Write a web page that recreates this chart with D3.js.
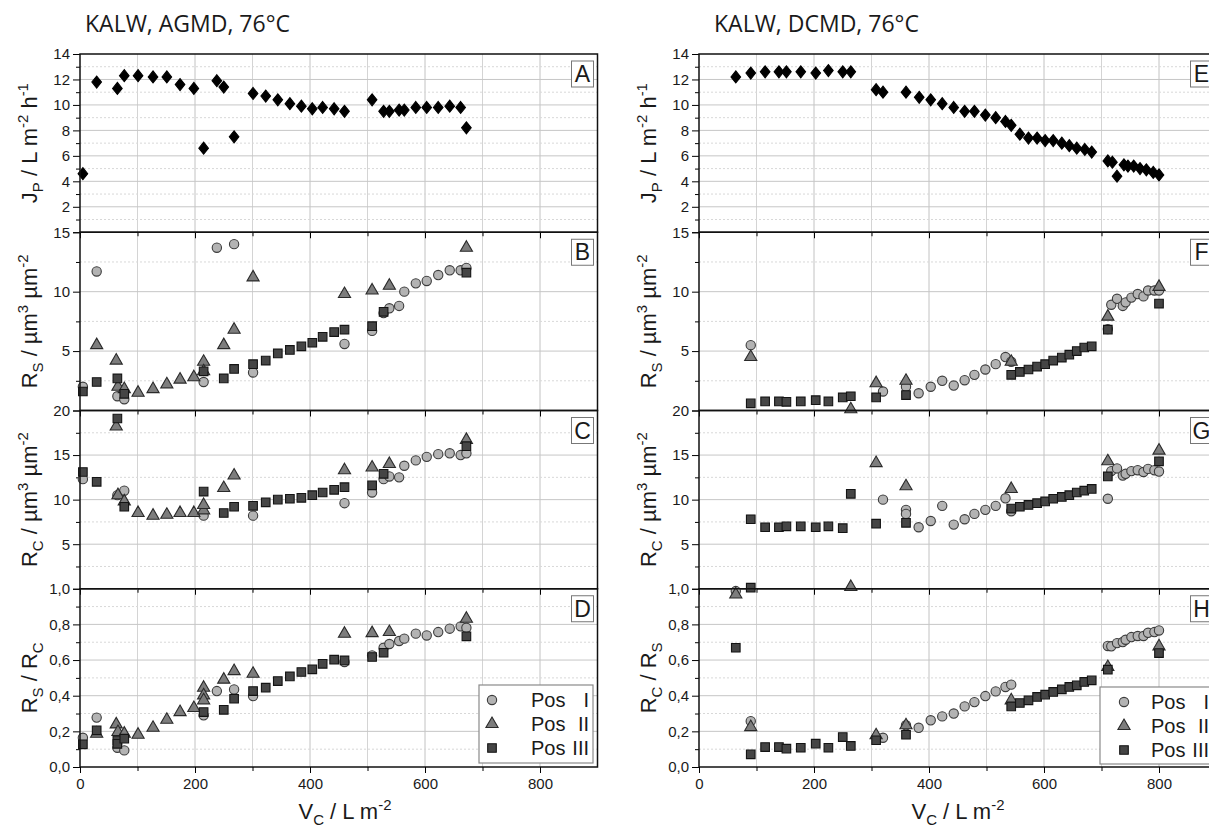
<!DOCTYPE html>
<html>
<head>
<meta charset="utf-8">
<script src="https://cdn.jsdelivr.net/npm/d3@7"></script>
<style>
  body { margin: 0; background: #fff; }
  text { font-family: "Liberation Sans", Arial, sans-serif; fill: #1a1a1a; }
</style>
</head>
<body>
<svg id="chart" width="1209" height="829"></svg>
<script>
"use strict";

// ---- data: [V_C in L/m2, value] ----
const agmdFlux = [[5,4.6],[29,11.8],[65,11.3],[77,12.3],[101,12.3],[127,12.2],[151,12.2],[174,11.6],[198,11.3],[215,6.6],[238,11.9],[250,11.4],[268,7.5],[301,10.9],[323,10.7],[344,10.4],[365,10.1],[385,9.9],[404,9.7],[422,9.8],[442,9.7],[460,9.5],[508,10.4],[528,9.5],[538,9.5],[555,9.6],[564,9.6],[584,9.8],[603,9.8],[623,9.8],[643,9.9],[662,9.8],[672,8.2]];

const agmdRsI   = [[5,2.0],[29,11.7],[65,1.2],[77,0.95],[215,2.4],[238,13.7],[268,14.0],[301,3.2],[460,5.6],[508,6.7],[528,8.2],[538,8.6],[555,8.8],[564,10.0],[584,10.7],[603,10.9],[623,11.4],[643,11.8],[662,11.8],[672,12.0]];
const agmdRsII  = [[29,5.5],[63,4.2],[66,2.0],[77,1.8],[101,1.5],[127,1.8],[151,2.2],[174,2.6],[198,2.8],[215,4.1],[215,3.3],[250,5.5],[268,6.8],[301,11.2],[460,9.8],[508,10.1],[538,10.5],[672,13.7]];
const agmdRsIII = [[5,1.6],[29,2.4],[65,2.7],[77,1.4],[215,3.3],[250,2.7],[268,3.5],[301,3.9],[323,4.2],[344,4.8],[365,5.1],[385,5.4],[404,5.7],[422,6.2],[442,6.6],[460,6.8],[508,7.1],[528,8.3],[672,11.6]];

const agmdRcI   = [[5,12.3],[65,10.5],[77,11.0],[215,8.2],[301,8.2],[460,9.6],[508,10.8],[528,12.3],[538,12.6],[555,12.5],[564,13.8],[584,14.4],[603,14.8],[623,15.1],[643,15.2],[662,15.0],[672,15.2]];
const agmdRcII  = [[63,18.2],[66,10.5],[77,9.8],[101,8.5],[127,8.2],[151,8.3],[174,8.5],[198,8.5],[215,8.8],[215,9.4],[250,11.3],[268,12.7],[460,13.3],[508,13.6],[538,14.0],[672,16.7]];
const agmdRcIII = [[5,13.1],[29,12.0],[65,19.1],[77,9.2],[215,10.9],[250,8.5],[268,9.2],[301,9.3],[323,9.7],[344,10.0],[365,10.1],[385,10.2],[404,10.5],[422,10.8],[442,11.1],[460,11.4],[508,11.6],[528,12.9],[672,16.0]];

const agmdRatioI   = [[5,0.164],[29,0.277],[65,0.108],[77,0.093],[215,0.29],[238,0.426],[268,0.435],[301,0.398],[460,0.589],[508,0.626],[528,0.669],[538,0.69],[555,0.707],[564,0.72],[584,0.748],[603,0.738],[623,0.757],[643,0.776],[662,0.789],[672,0.781]];
const agmdRatioII  = [[29,0.187],[63,0.239],[66,0.196],[77,0.187],[101,0.181],[127,0.22],[151,0.265],[174,0.308],[198,0.331],[215,0.445],[215,0.402],[215,0.374],[250,0.49],[268,0.538],[301,0.523],[460,0.748],[508,0.751],[538,0.757],[672,0.832]];
const agmdRatioIII = [[5,0.127],[29,0.206],[65,0.15],[65,0.13],[77,0.159],[215,0.308],[250,0.321],[268,0.383],[301,0.426],[323,0.445],[344,0.482],[365,0.508],[385,0.533],[404,0.548],[422,0.579],[442,0.602],[460,0.598],[508,0.617],[528,0.641],[672,0.733]];

const dcmdFlux = [[64,12.2],[90,12.5],[115,12.6],[139,12.6],[152,12.6],[177,12.6],[203,12.5],[225,12.7],[250,12.6],[264,12.6],[308,11.2],[320,11.0],[360,11.0],[383,10.6],[403,10.4],[423,10.1],[443,9.8],[462,9.5],[479,9.5],[498,9.2],[516,9.0],[533,8.7],[543,8.4],[558,7.7],[573,7.4],[588,7.4],[602,7.2],[616,7.2],[631,7.0],[644,6.8],[657,6.6],[671,6.5],[683,6.3],[711,5.6],[719,5.5],[727,4.4],[739,5.3],[746,5.2],[756,5.2],[767,5.0],[778,4.9],[790,4.7],[800,4.5]];

const dcmdRsI   = [[90,5.5],[320,1.6],[360,2.0],[382,1.45],[403,2.0],[423,2.5],[443,2.1],[462,2.55],[479,3.0],[498,3.45],[516,3.9],[533,4.5],[543,4.1],[711,6.85],[717,8.9],[727,9.4],[737,8.8],[742,9.1],[752,9.5],[763,9.8],[773,9.6],[781,10.1],[792,10.1],[800,10.1]];
const dcmdRsII  = [[90,4.5],[264,0.1],[308,2.3],[360,2.5],[543,4.1],[711,7.9],[800,10.4]];
const dcmdRsIII = [[90,0.6],[115,0.76],[139,0.76],[152,0.73],[177,0.76],[203,0.87],[225,0.76],[250,1.1],[264,1.2],[308,1.1],[360,1.3],[543,3.0],[558,3.25],[573,3.45],[588,3.7],[602,3.9],[616,4.2],[631,4.45],[644,4.7],[657,5.0],[670,5.3],[683,5.4],[711,6.8],[800,9.0]];

const dcmdRcI   = [[320,10.0],[360,8.85],[360,8.4],[382,6.9],[403,7.6],[423,9.3],[443,7.2],[462,7.8],[479,8.4],[498,8.85],[516,9.3],[533,10.15],[543,8.7],[711,10.1],[717,13.2],[727,13.5],[737,12.7],[742,12.9],[752,13.2],[763,13.3],[773,13.1],[781,13.45],[792,13.3],[800,13.15]];
const dcmdRcII  = [[308,14.1],[360,11.5],[543,11.2],[711,14.3],[800,15.5]];
const dcmdRcIII = [[90,7.8],[115,6.9],[139,6.9],[152,7.0],[177,7.0],[203,6.9],[225,7.0],[250,6.8],[264,10.65],[308,7.3],[360,7.4],[543,9.0],[558,9.2],[573,9.4],[588,9.6],[602,9.8],[616,10.1],[631,10.3],[644,10.5],[657,10.8],[670,11.0],[683,11.2],[711,12.6],[800,14.3]];

const dcmdRatioI   = [[64,0.987],[90,0.257],[320,0.164],[360,0.234],[382,0.22],[403,0.262],[423,0.284],[443,0.3],[462,0.34],[479,0.364],[498,0.398],[516,0.424],[533,0.449],[543,0.462],[711,0.679],[717,0.677],[727,0.695],[737,0.701],[742,0.714],[752,0.729],[763,0.735],[773,0.735],[781,0.753],[792,0.757],[800,0.766]];
const dcmdRatioII  = [[64,0.968],[90,0.224],[264,1.01],[308,0.178],[360,0.234],[543,0.374],[711,0.561],[800,0.677]];
const dcmdRatioIII = [[64,0.669],[90,1.006],[90,0.071],[115,0.112],[139,0.112],[152,0.103],[177,0.108],[203,0.131],[225,0.108],[250,0.168],[264,0.118],[308,0.15],[360,0.181],[543,0.34],[558,0.359],[573,0.374],[588,0.393],[602,0.406],[616,0.421],[631,0.436],[644,0.449],[657,0.458],[670,0.477],[683,0.486],[711,0.546],[800,0.639]];

const xMajorTicks = [0, 200, 400, 600, 800];
const xMinorTicks = [100, 300, 500, 700];
const legendNames = ["I", "II", "III"];

// ---- layout ----
const svg = d3.select("#chart");
const PANEL_TOP = 54, PANEL_H = 178.25;

const markerStyle = {
    diamond:  { d: "M0,-6L4.8,0L0,6L-4.8,0Z", fill: "#000", stroke: "#000" },
    circle:   { d: d3.symbol(d3.symbolCircle, 68)(), fill: "#b3b3b3", stroke: "#3c3c3c" },
    triangle: { d: d3.symbol(d3.symbolTriangle, 64)(), fill: "#7d7d7d", stroke: "#2a2a2a" },
    square:   { d: d3.symbol(d3.symbolSquare, 74)(), fill: "#454545", stroke: "#141414" }
};
const posKinds = ["circle", "triangle", "square"];

const commaFmt = (d) => d3.format(".1f")(d).replace(".", ",");

function panelSpecs(kind) {
    const isAgmd = kind === "agmd";
    return [
        { letter: isAgmd ? "A" : "E", domain: [0, 14], major: d3.range(0, 14.01, 2), minor: d3.range(1, 14, 2),
          label: (d) => d === 0 ? "" : d,
          title: [["J", "n"], ["P", "sub"], [" / L m", "n"], ["-2", "sup"], [" h", "n"], ["-1", "sup"]],
          series: [{ data: isAgmd ? agmdFlux : dcmdFlux, kind: "diamond" }] },
        { letter: isAgmd ? "B" : "F", domain: [0, 15], major: [0, 5, 10, 15], minor: [2.5, 7.5, 12.5],
          label: (d) => d === 0 ? "" : d,
          title: [["R", "n"], ["S", "sub"], [" / µm", "n"], ["3", "sup"], [" µm", "n"], ["-2", "sup"]],
          series: isAgmd ? [agmdRsI, agmdRsII, agmdRsIII] : [dcmdRsI, dcmdRsII, dcmdRsIII] },
        { letter: isAgmd ? "C" : "G", domain: [0, 20], major: [0, 5, 10, 15, 20], minor: [2.5, 7.5, 12.5, 17.5],
          label: (d) => d === 0 ? "" : d,
          title: [["R", "n"], ["C", "sub"], [" / µm", "n"], ["3", "sup"], [" µm", "n"], ["-2", "sup"]],
          series: isAgmd ? [agmdRcI, agmdRcII, agmdRcIII] : [dcmdRcI, dcmdRcII, dcmdRcIII] },
        { letter: isAgmd ? "D" : "H", domain: [0, 1], major: d3.range(0, 1.01, 0.2), minor: d3.range(0.1, 1, 0.2),
          label: commaFmt,
          title: isAgmd ? [["R", "n"], ["S", "sub"], [" / R", "n"], ["C", "sub"]]
                        : [["R", "n"], ["C", "sub"], [" / R", "n"], ["S", "sub"]],
          series: isAgmd ? [agmdRatioI, agmdRatioII, agmdRatioIII] : [dcmdRatioI, dcmdRatioII, dcmdRatioIII] }
    ];
}

/**
 * Append tspans with sub/superscripts to a text selection.
 */
function richText(text, parts, size) {
    let offset = 0;
    parts.forEach(([str, mode]) => {
        const target = mode === "sub" ? size * 0.25 : mode === "sup" ? -size * 0.42 : 0;
        text.append("tspan")
            .attr("dy", target - offset)
            .style("font-size", mode === "n" ? size + "px" : (size * 0.68) + "px")
            .text(str);
        offset = target;
    });
}

const columns = [
    { kind: "agmd", left: 80, right: 597.5, title: "KALW, AGMD, 76°C", titleX: 85,
      legend: { x: 479, w: 114, y: 685, h: 78, sym: 13, txt: 52 } },
    { kind: "dcmd", left: 699, right: 1216.5, title: "KALW, DCMD, 76°C", titleX: 714,
      legend: { x: 1100, w: 114, y: 687, h: 77, sym: 24, txt: 51 } }
];

columns.forEach((col) => {
    const x = d3.scaleLinear().domain([0, 900]).range([col.left, col.right]);
    const g = svg.append("g");

    g.append("text")
        .attr("x", col.titleX).attr("y", 32)
        .style("font-family", "'Open Sans', 'Noto Sans', sans-serif")
        .style("font-size", "23px")
        .text(col.title);

    panelSpecs(col.kind).forEach((spec, i) => {
        const top = PANEL_TOP + i * PANEL_H, bottom = top + PANEL_H;
        const y = d3.scaleLinear().domain(spec.domain).range([bottom, top]);
        const p = g.append("g");

        // grid
        p.selectAll(".vminor").data(xMinorTicks).join("line")
            .attr("x1", x).attr("x2", x).attr("y1", top).attr("y2", bottom)
            .attr("stroke", "#d4d4d4").attr("stroke-width", 1);
        p.selectAll(".vmajor").data(xMajorTicks.slice(1)).join("line")
            .attr("x1", x).attr("x2", x).attr("y1", top).attr("y2", bottom)
            .attr("stroke", "#c2c2c2").attr("stroke-width", 1);
        p.selectAll(".hminor").data(spec.minor).join("line")
            .attr("x1", col.left).attr("x2", col.right).attr("y1", y).attr("y2", y)
            .attr("stroke", "#d8d8d8").attr("stroke-dasharray", "2,2");
        p.selectAll(".hmajor").data(spec.major.filter((d) => d > spec.domain[0] && d < spec.domain[1])).join("line")
            .attr("x1", col.left).attr("x2", col.right).attr("y1", y).attr("y2", y)
            .attr("stroke", "#c6c6c6");

        // y axis ticks
        p.append("g").attr("transform", `translate(${col.left},0)`)
            .call(d3.axisLeft(y).tickValues(spec.minor).tickSize(4).tickFormat(""))
            .call((a) => a.select(".domain").remove());
        const ya = p.append("g").attr("transform", `translate(${col.left},0)`)
            .call(d3.axisLeft(y).tickValues(spec.major).tickSize(7).tickPadding(3).tickFormat(spec.label))
            .call((a) => a.select(".domain").remove());
        ya.selectAll("text").style("font-size", "15px").attr("fill", "#222").style("font-family", "'Liberation Sans', Arial, sans-serif");

        // inward ticks on the shared boundary
        if (i > 0) {
            p.append("g").attr("transform", `translate(0,${top})`)
                .call(d3.axisBottom(x).tickValues(xMinorTicks).tickSize(4).tickFormat(""))
                .call((a) => a.select(".domain").remove());
            p.append("g").attr("transform", `translate(0,${top})`)
                .call(d3.axisBottom(x).tickValues(xMajorTicks).tickSize(6).tickFormat(""))
                .call((a) => a.select(".domain").remove());
        }

        // y title
        const t = p.append("text")
            .attr("transform", `translate(${col.left - 43},${(top + bottom) / 2}) rotate(-90)`)
            .attr("text-anchor", "middle");
        richText(t, spec.title, 22);

        // markers
        const seriesList = spec.series[0].kind ? spec.series
            : spec.series.map((data, k) => ({ data: data, kind: posKinds[k] }));
        seriesList.forEach((s) => {
            const st = markerStyle[s.kind];
            p.append("g").selectAll("path").data(s.data).join("path")
                .attr("transform", (d) => `translate(${x(d[0])},${y(d[1])})`)
                .attr("d", st.d)
                .attr("fill", st.fill).attr("stroke", st.stroke).attr("stroke-width", 1.1);
        });

        // frame
        p.append("rect")
            .attr("x", col.left).attr("y", top)
            .attr("width", col.right - col.left).attr("height", PANEL_H)
            .attr("fill", "none").attr("stroke", "#111").attr("stroke-width", 1.5);

        // panel letter
        p.append("rect")
            .attr("x", col.right - 26).attr("y", top + 7).attr("width", 22).attr("height", 26)
            .attr("fill", "#fff").attr("stroke", "#777").attr("stroke-width", 1);
        p.append("text")
            .attr("x", col.right - 15).attr("y", top + 28)
            .attr("text-anchor", "middle").style("font-size", "23px")
            .text(spec.letter);

        // bottom axis and legend on the last panel
        if (i === 3) {
            p.append("g").attr("transform", `translate(0,${bottom})`)
                .call(d3.axisBottom(x).tickValues(xMinorTicks).tickSize(4).tickFormat(""))
                .call((a) => a.select(".domain").remove());
            const xa = p.append("g").attr("transform", `translate(0,${bottom})`)
                .call(d3.axisBottom(x).tickValues(xMajorTicks).tickSize(6).tickPadding(5))
                .call((a) => a.select(".domain").remove());
            xa.selectAll("text").style("font-size", "15px").attr("fill", "#222").style("font-family", "'Liberation Sans', Arial, sans-serif");

            const xt = p.append("text")
                .attr("x", col.kind === "agmd" ? 345 : 958).attr("y", 819)
                .attr("text-anchor", "middle");
            richText(xt, [["V", "n"], ["C", "sub"], [" / L m", "n"], ["-2", "sup"]], 22);

            const L = col.legend;
            const lg = p.append("g");
            lg.append("rect").attr("x", L.x).attr("y", L.y).attr("width", L.w).attr("height", L.h)
                .attr("fill", "#fff").attr("stroke", "#8a8a8a").attr("stroke-width", 1.2);
            legendNames.forEach((name, k) => {
                const cy = L.y + 15 + k * 24;
                const st = markerStyle[posKinds[k]];
                lg.append("path").attr("transform", `translate(${L.x + L.sym},${cy})`)
                    .attr("d", st.d).attr("fill", st.fill).attr("stroke", st.stroke).attr("stroke-width", 1.1);
                lg.append("text").attr("x", L.x + L.txt).attr("y", cy).attr("dy", "0.36em")
                    .style("font-size", "20px").text("Pos");
                lg.append("text").attr("x", L.x + L.txt + 58).attr("y", cy).attr("dy", "0.36em")
                    .attr("text-anchor", "end").style("font-size", "20px").text(name);
            });
        }
    });
});
</script>
</body>
</html>
